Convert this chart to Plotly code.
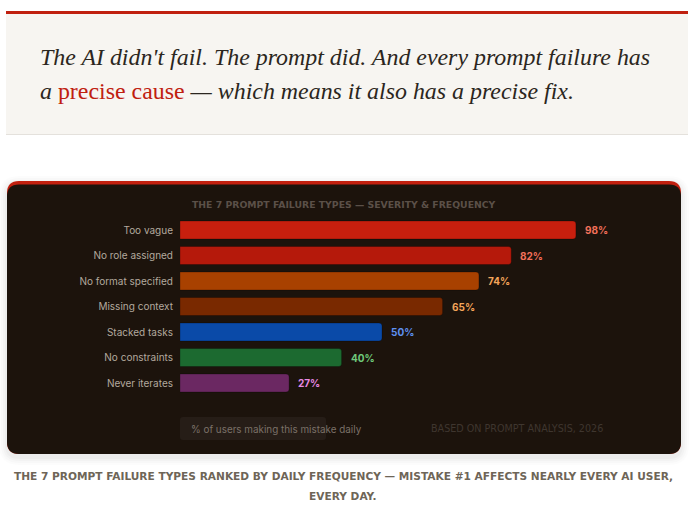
import plotly.graph_objects as go

# ---------------- data ----------------
categories = ["Too vague", "No role assigned", "No format specified", "Missing context",
              "Stacked tasks", "No constraints", "Never iterates"]
values = [98, 82, 74, 65, 50, 40, 27]
bar_colors = ["#c81f0e", "#b5190b", "#a84100", "#792900", "#0a4aa8", "#1c6a30", "#6b2862"]
label_colors = ["#f2705a", "#f2705a", "#f4a55a", "#f4a55a", "#5e90f0", "#6fc97a", "#e889e4"]
value_labels = [f"{v}%" for v in values]

chart_title = "THE 7 PROMPT FAILURE TYPES — SEVERITY & FREQUENCY"
legend_text = "% of users making this mistake daily"
source_text = "BASED ON PROMPT ANALYSIS, 2026"
caption_lines = ["THE 7 PROMPT FAILURE TYPES RANKED BY DAILY FREQUENCY — MISTAKE #1 AFFECTS NEARLY EVERY AI USER,",
                 "EVERY DAY."]
quote_line1 = "The AI didn't fail. The prompt did. And every prompt failure has"
quote_pre = "a "
quote_highlight = "precise cause"
quote_post = " — which means it also has a precise fix."

# ---------------- helpers ----------------
W, H = 695, 508


def px(x):
    return x / W


def py(y):
    return 1 - y / H


def rrect(x0, y0, x1, y1, r):
    """rounded rectangle path in paper coordinates from pixel coords"""
    pts = [
        f"M{px(x0 + r)},{py(y0)}",
        f"L{px(x1 - r)},{py(y0)}",
        f"Q{px(x1)},{py(y0)} {px(x1)},{py(y0 + r)}",
        f"L{px(x1)},{py(y1 - r)}",
        f"Q{px(x1)},{py(y1)} {px(x1 - r)},{py(y1)}",
        f"L{px(x0 + r)},{py(y1)}",
        f"Q{px(x0)},{py(y1)} {px(x0)},{py(y1 - r)}",
        f"L{px(x0)},{py(y0 + r)}",
        f"Q{px(x0)},{py(y0)} {px(x0 + r)},{py(y0)}",
        "Z",
    ]
    return " ".join(pts)


shapes = []
# quote block
shapes.append(dict(type="rect", xref="paper", yref="paper", x0=px(6), x1=px(688), y0=py(134), y1=py(14),
                   fillcolor="#f7f5f1", line=dict(width=0), layer="below"))
shapes.append(dict(type="rect", xref="paper", yref="paper", x0=px(6), x1=px(688), y0=py(14), y1=py(11),
                   fillcolor="#c0200f", line=dict(width=0), layer="below"))
shapes.append(dict(type="rect", xref="paper", yref="paper", x0=px(6), x1=px(688), y0=py(135), y1=py(134),
                   fillcolor="#e4e1dc", line=dict(width=0), layer="below"))

# card shadow (soft)
for i, a in enumerate([0.012, 0.015, 0.02, 0.025]):
    g = 8 - 2 * i
    shapes.append(dict(type="path", xref="paper", yref="paper",
                       path=rrect(7 - g, 181 - g + 3, 681 + g, 454 + g + 3, 12 + g),
                       fillcolor=f"rgba(0,0,0,{a})", line=dict(width=0), layer="below"))
# card
shapes.append(dict(type="path", xref="paper", yref="paper", path=rrect(7, 181, 681, 454, 12),
                   fillcolor="#c2200f", line=dict(width=0), layer="below"))
shapes.append(dict(type="path", xref="paper", yref="paper", path=rrect(7, 184.5, 681, 454, 12),
                   fillcolor="#1c130c", line=dict(width=0), layer="below"))
# legend chip
shapes.append(dict(type="path", xref="paper", yref="paper", path=rrect(180, 417, 326, 440, 3),
                   fillcolor="#261d17", line=dict(width=0), layer="below"))

fig = go.Figure()
fig.add_trace(go.Bar(
    x=values, y=categories, orientation="h",
    marker=dict(color=bar_colors, line=dict(color="rgba(0,0,0,0.25)", width=1)),
    hoverinfo="skip", showlegend=False,
))

annotations = []
for cat, v, lab, c in zip(categories, values, value_labels, label_colors):
    annotations.append(dict(x=v, y=cat, xref="x", yref="y", text=f"<b>{lab}</b>", showarrow=False,
                            xanchor="left", yanchor="middle", xshift=7,
                            font=dict(family="Inter, Roboto, sans-serif", size=10, color=c)))

annotations += [
    dict(x=px(344), y=py(205), xref="paper", yref="paper", text=f"<b>{chart_title}</b>", showarrow=False,
         xanchor="center", yanchor="middle",
         font=dict(family="DejaVu Sans, sans-serif", size=9.3, color="#5b5048")),
    dict(x=px(189), y=py(429), xref="paper", yref="paper", text=legend_text, showarrow=False,
         xanchor="left", yanchor="middle",
         font=dict(family="Inter, Roboto, sans-serif", size=9.9, color="#7b7168")),
    dict(x=px(516.5), y=py(428.5), xref="paper", yref="paper", text=source_text, showarrow=False,
         xanchor="center", yanchor="middle",
         font=dict(family="DejaVu Sans, sans-serif", size=9.6, color="#3f362f")),
    dict(x=px(343), y=py(476), xref="paper", yref="paper", text=f"<b>{caption_lines[0]}</b>", showarrow=False,
         xanchor="center", yanchor="middle",
         font=dict(family="DejaVu Sans, sans-serif", size=10.6, color="#6e6557")),
    dict(x=px(343), y=py(496), xref="paper", yref="paper", text=f"<b>{caption_lines[1]}</b>", showarrow=False,
         xanchor="center", yanchor="middle",
         font=dict(family="DejaVu Sans, sans-serif", size=10.6, color="#6e6557")),
    dict(x=px(38), y=py(57), xref="paper", yref="paper", text=f"<i>{quote_line1}</i>", showarrow=False,
         xanchor="left", yanchor="middle",
         font=dict(family="Liberation Serif, serif", size=23.9, color="#2b2620")),
    dict(x=px(38), y=py(91), xref="paper", yref="paper",
         text=f"<i>{quote_pre}</i><span style='color:#c0200f'>{quote_highlight}</span><i>{quote_post}</i>",
         showarrow=False, xanchor="left", yanchor="middle",
         font=dict(family="Liberation Serif, serif", size=23.9, color="#2b2620")),
]

row_top, row_h = 217.25, 25.5
fig.update_layout(
    width=W, height=H, margin=dict(l=0, r=0, t=0, b=0),
    paper_bgcolor="#ffffff", plot_bgcolor="rgba(0,0,0,0)",
    barcornerradius=3, bargap=0.294,
    shapes=shapes, annotations=annotations,
    xaxis=dict(domain=[px(180), px(584)], range=[0, 100], visible=False, fixedrange=True),
    yaxis=dict(domain=[py(row_top + 7 * row_h), py(row_top)], autorange="reversed",
               showgrid=False, zeroline=False, showline=False, ticks="", ticklabelstandoff=6,
               tickfont=dict(family="Inter, Roboto, sans-serif", size=10, color="#b3a99e"),
               fixedrange=True),
)

fig.write_html("out.html", config={"displayModeBar": False},
               post_script="document.body.style.margin='0';document.body.style.overflow='hidden';")
